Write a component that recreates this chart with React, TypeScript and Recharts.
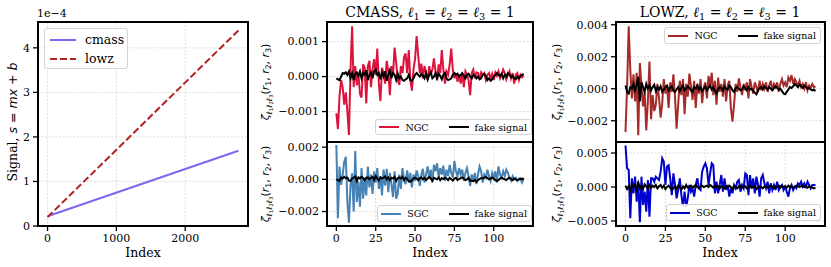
import React from 'react';
import { LineChart, Line, XAxis, YAxis, CartesianGrid } from 'recharts';

// left panel: s = m x + b, values in units of 1e-4
const signalIndex = [0, 2774];
const cmassSignal = [0.22, 1.69];
const lowzSignal = [0.2, 4.39];
const signalTicks = [0, 1, 2, 3, 4];
const longIndexTicks = [0, 1000, 2000];

// right panels, values in units of 1e-3
const indexTicks = [0, 25, 50, 75, 100];

const cmassNgc = [
  -1.05, -1.5, -0.55, -0.1, -0.3, -0.8, -0.45, -1.0, -1.67, 0.2,
  1.44, -0.3, 0.3, -0.25, 0.1, -0.5, -0.6, 0.35, 0.25, -0.77,
  0.3, 0.45, -0.3, 0.2, 0.5, 0.05, 0.8, -0.2, -0.7, 0.25,
  0.1, -0.2, 0.45, 0.15, -0.53, 0.3, 0.05, 0.83, 0.4, -0.1,
  -0.24, 0.3, 0.1, 0.55, 0.66, 0.1, 0.76, -0.1, -0.4, 0.2,
  0.5, 1.16, 0.6, 0.1, 0.37, -0.05, 0.3, 0.1, -0.1, 0.3,
  0.05, 0.2, 0.52, 0.15, -0.1, 0.35, 0.1, 0.76, 0.2, -0.2,
  0.15, 0.05, 0.35, 0.8, 0.2, -0.05, 0.1, -0.15, 0.05, -0.2,
  0.1, -0.3, 0.15, 0.05, -0.1, -0.53, 0.1, 0.2, -0.05, 0.12,
  0.1, -0.08, 0.12, 0.05, 0.1, -0.1, 0.05, 0.1, -0.05, 0.08,
  -0.1, 0.12, 0.02, 0.15, -0.05, 0.05, 0.2, 0.1, -0.08, 0.05,
  0.15, -0.05, 0.1, -0.2, 0.05, 0.1, -0.1, 0.05, -0.02, 0.03,
];
const cmassNgcFake = [
  -0.05, -0.08, -0.1, 0.0, 0.1, 0.08, 0.12, 0.05, 0.15, -0.05,
  0.1, -0.1, 0.08, 0.12, 0.02, 0.15, -0.05, 0.1, 0.05, 0.18,
  -0.1, 0.05, 0.12, -0.05, 0.15, 0.2, 0.05, 0.1, -0.08, 0.12,
  0.0, 0.15, -0.12, 0.05, 0.18, -0.05, 0.1, 0.05, -0.1, 0.08,
  -0.05, 0.0, -0.1, -0.12, -0.08, -0.05, 0.05, -0.1, -0.12, -0.05,
  0.05, 0.1, 0.05, 0.0, 0.08, 0.02, -0.05, 0.1, -0.08, 0.05,
  0.12, -0.05, 0.0, 0.1, -0.05, 0.08, 0.02, -0.08, 0.05, 0.1,
  -0.05, -0.1, -0.08, -0.05, 0.05, 0.1, 0.05, 0.08, 0.0, 0.05,
  0.1, 0.02, -0.05, 0.05, 0.08, 0.0, -0.05, 0.05, 0.02, -0.05,
  0.0, -0.08, -0.05, 0.05, 0.08, 0.02, -0.1, -0.05, -0.12, -0.08,
  0.0, 0.05, 0.1, 0.05, 0.02, 0.08, -0.05, 0.05, 0.0, 0.1,
  0.05, -0.02, 0.02, -0.05, -0.08, 0.0, -0.05, 0.02, 0.05, 0.08,
];
const cmassSgc = [
  2.13, -2.42, 0.8, -0.35, 0.27, 1.1, 1.4, -1.4, -2.7, -0.35,
  0.37, -2.0, 1.76, -1.4, -0.14, -1.7, 0.7, -1.2, 0.1, -1.0,
  0.8, -0.5, 0.3, -0.9, 0.5, -0.2, 0.7, -0.6, 0.2, -1.0,
  0.6, -0.4, 0.65, -0.8, 0.4, -0.3, -1.1, 0.5, -1.2, -0.9,
  0.3, -0.6, 0.7, 0.0, -0.3, 0.55, -0.2, 0.4, -0.5, 0.3,
  -0.1, 0.55, 0.2, -0.4, 0.3, 0.65, -0.2, 0.3, 0.8, 0.1,
  0.6, -0.2, 0.9, 0.5, 1.0, 0.1, 0.7, 0.3, 0.85, -0.1,
  0.6, 0.2, 0.9, 0.4, 0.1, 1.14, 0.5, 0.2, 0.7, 0.3,
  0.6, -0.1, 0.4, 0.7, 0.2, -0.4, 0.3, -0.1, 0.4, -0.3,
  0.3, 0.8, 0.5, -0.2, 0.3, 0.1, 0.6, 0.2, -0.1, 0.4,
  0.1, 0.5, -0.2, 0.8, 0.3, 0.1, 0.5, 0.2, 0.6, 0.4,
  0.1, -0.1, 0.2, 0.0, 0.1, -0.1, 0.05, 0.0, -0.2, 0.05,
];
const cmassSgcFake = [
  0.0, -0.05, -0.1, 0.1, 0.05, 0.15, 0.08, 0.1, -0.08, -0.1,
  0.05, 0.1, 0.18, -0.1, 0.12, 0.05, 0.15, 0.08, -0.05, 0.1,
  0.12, 0.0, 0.08, 0.15, -0.05, 0.2, 0.05, -0.08, 0.12, 0.05,
  0.1, 0.18, 0.0, 0.12, -0.05, 0.1, 0.05, 0.15, -0.1, 0.08,
  0.12, 0.05, 0.15, -0.05, 0.1, 0.02, -0.12, -0.15, -0.05, 0.05,
  0.1, 0.05, -0.05, 0.08, 0.12, 0.0, 0.1, -0.05, 0.05, 0.15,
  0.05, -0.08, 0.1, 0.05, 0.0, 0.12, -0.05, 0.08, 0.02, 0.1,
  0.05, -0.05, 0.1, 0.0, -0.08, 0.05, 0.1, -0.05, 0.02, 0.08,
  0.12, 0.05, -0.05, 0.0, 0.1, -0.1, -0.08, -0.12, -0.05, -0.15,
  -0.05, 0.02, 0.08, 0.05, 0.1, 0.15, 0.08, 0.0, 0.05, 0.1,
  0.05, -0.05, -0.1, -0.05, 0.05, 0.1, 0.05, 0.0, -0.05, 0.05,
  0.1, 0.02, -0.05, 0.05, 0.0, -0.05, -0.02, 0.05, 0.0, 0.08,
];
const lowzNgc = [
  -2.7, 0.1, 3.9, 1.2, -0.6, 0.9, -0.8, 1.0, -2.9, 1.6,
  0.2, -1.1, -0.2, -2.6, -0.8, 1.7, -1.9, -0.4, -1.4, -1.0,
  0.3, -0.6, -1.8, -0.9, 0.6, -0.3, 0.2, -1.2, 0.4, -0.2,
  0.9, -0.5, -2.5, -1.0, 0.5, -0.4, 0.6, -1.6, 0.3, -0.5,
  0.95, 0.2, -0.7, 0.5, -1.2, 0.3, -0.3, 0.6, -0.9, 0.1,
  0.4, -0.6, 0.8, 0.2, 1.0, -0.4, 0.5, -1.0, 0.7, -0.2,
  0.3, -0.5, 0.6, -0.8, 0.2, 0.5, -1.2, -2.06, -1.0, 0.3,
  -0.2, 0.65, 0.1, -0.4, 0.3, -0.1, 0.4, -0.6, 0.6, 0.1,
  -0.3, 0.4, 0.1, -0.2, 0.5, -0.1, 0.3, 0.0, 0.4, -0.2,
  0.2, 0.5, -0.1, 0.3, 0.1, 0.4, -0.2, 0.3, 0.6, 0.2,
  0.4, 0.1, 0.7, 0.5, 0.85, 0.3, 0.6, 0.4, 0.2, 0.5,
  0.1, 0.3, 0.0, 0.4, -0.1, 0.2, 0.05, 0.3, 0.1, 0.15,
];
const lowzNgcFake = [
  0.2, -0.2, -0.3, 0.1, 0.0, 0.3, -0.1, 0.2, 0.75, -0.8,
  0.4, 0.1, -0.2, 0.3, 0.0, 0.2, -0.1, 0.1, 0.25, -0.15,
  0.1, -0.05, 0.15, -0.2, -0.05, 0.1, 0.2, -0.1, 0.05, 0.15,
  -0.1, -0.2, -0.05, 0.1, -0.15, 0.05, 0.2, -0.1, 0.0, 0.15,
  0.05, -0.1, -0.2, 0.1, 0.0, 0.2, -0.05, 0.1, -0.15, 0.0,
  0.15, -0.1, 0.05, 0.2, -0.05, 0.1, -0.15, -0.3, -0.05, 0.1,
  0.05, -0.1, 0.15, 0.0, -0.05, 0.2, 0.1, -0.1, -0.2, 0.05,
  0.1, 0.0, -0.1, -0.05, 0.15, 0.05, -0.1, 0.1, -0.05, 0.0,
  -0.15, -0.25, -0.35, -0.1, 0.05, 0.1, -0.05, 0.15, 0.05, -0.05,
  0.1, 0.0, -0.1, 0.05, 0.15, 0.05, -0.05, 0.0, -0.15, -0.3,
  -0.35, -0.2, -0.05, 0.1, 0.05, 0.15, 0.3, 0.2, 0.1, 0.25,
  0.15, 0.05, 0.2, 0.1, 0.0, 0.05, -0.05, -0.1, -0.05, -0.15,
];
const lowzSgc = [
  6.1, 2.75, 2.5, -4.6, 1.27, -0.93, 1.52, -2.16, 0.78, -5.2,
  1.52, -2.65, -0.69, -3.63, 1.03, -4.36, 1.27, 1.27, 0.78, 1.52,
  1.27, 1.03, 2.25, 4.2, 3.7, 0.3, 3.0, 3.2, 1.27, -1.2,
  2.0, 0.3, -1.67, -0.44, 1.27, -1.2, -2.9, -0.69, -2.9, -1.67,
  0.3, -0.69, -0.2, -1.42, 0.3, 1.27, -0.2, -0.44, 2.25, 3.0,
  3.48, 2.75, 0.3, 2.0, 3.48, 3.2, -0.93, 0.78, -0.93, 0.3,
  1.76, -0.69, 1.27, -0.44, 0.3, -1.42, -0.2, -0.93, 0.3, -0.2,
  0.78, 1.03, -0.69, 0.3, -0.2, 2.0, 1.76, -1.2, 1.76, -0.2,
  1.27, -0.93, 1.52, 0.3, -1.42, 1.27, 1.76, 0.54, -0.2, 0.78,
  -0.93, 0.54, -0.44, 0.3, -0.44, 0.78, -0.44, 0.05, 0.3, -0.44,
  0.05, -0.69, -1.42, -0.2, 0.3, -0.44, 0.05, -0.2, 0.54, 0.3,
  0.78, 0.05, 0.54, 0.05, 0.78, 0.3, -0.2, 0.3, 0.3, 0.3,
];
const lowzSgcFake = [
  0.2, -0.3, 0.1, -0.5, 0.4, 0.0, 0.3, -0.4, 0.6, -0.2,
  0.2, -0.3, 0.4, 0.1, -0.2, 0.3, -0.1, 0.2, 0.0, 0.3,
  -0.2, 0.1, 0.3, -0.1, 0.2, -0.3, 0.0, 0.2, -0.1, -0.4,
  -0.2, 0.1, -0.3, 0.2, 0.0, -0.4, 0.1, -0.2, 0.3, -0.1,
  0.0, 0.2, -0.1, 0.1, 0.3, 0.0, -0.2, 0.1, 0.2, 0.0,
  0.1, 0.2, 0.0, 0.3, 0.1, -0.1, 0.2, 0.0, 0.1, -0.2,
  0.1, 0.0, -0.2, 0.1, -0.1, 0.2, 0.0, -0.3, 0.1, 0.0,
  -0.2, 0.1, 0.2, -0.1, 0.0, 0.1, -0.2, 0.0, 0.2, -0.1,
  0.0, 0.1, -0.3, -0.1, 0.1, 0.0, -0.2, 0.1, 0.0, -0.1,
  0.1, 0.2, 0.0, -0.2, 0.1, 0.0, 0.2, -0.1, 0.1, 0.0,
  0.1, -0.1, 0.2, 0.0, 0.1, -0.1, 0.0, 0.2, 0.1, 0.0,
  0.1, 0.2, 0.0, 0.1, -0.1, 0.1, 0.0, -0.1, -0.2, -0.1,
];

const SERIF = '"DejaVu Serif", serif';
const MATH = '"DejaVu Sans", sans-serif';
const AXIS = { stroke: '#000', strokeWidth: 2 };
const TICK = { stroke: '#000', strokeWidth: 1.3 };
const TICK_TEXT = { fontSize: 11, fill: '#000', fontFamily: SERIF };
const RIGHT_X: [number, number] = [-5.95, 124.95];

const milli = (v: number) => (v < 0 ? '\u2212' : '') + (Math.abs(v) / 1000).toFixed(3);

type Series = { key: string; color: string; dash?: string };

interface PanelProps {
  left: number;
  top: number;
  width: number;
  height: number;
  margin: { top: number; right: number; bottom: number; left: number };
  yWidth: number;
  xHeight: number;
  rows: Record<string, number>[];
  series: Series[];
  xDomain: [number, number];
  xTicks: number[];
  showX: boolean;
  yDomain: [number, number];
  yTicks: number[];
  yFormat: (v: number) => string;
}

function Panel(p: PanelProps) {
  const plotW = p.width - p.margin.left - p.margin.right - p.yWidth;
  const plotH = p.height - p.margin.top - p.margin.bottom - p.xHeight;
  return (
    <div style={{ position: 'absolute', left: p.left, top: p.top }}>
      <LineChart width={p.width} height={p.height} data={p.rows} margin={p.margin}>
        <CartesianGrid stroke="#d6d6d6" strokeWidth={0.8} strokeDasharray="2 1.5" />
        <XAxis
          dataKey="index"
          type="number"
          domain={p.xDomain}
          ticks={p.xTicks}
          interval={0}
          allowDataOverflow
          height={p.xHeight}
          axisLine={AXIS}
          tickLine={p.showX ? TICK : false}
          tick={p.showX ? TICK_TEXT : false}
          tickSize={5}
          tickMargin={3}
        />
        <YAxis
          type="number"
          domain={p.yDomain}
          ticks={p.yTicks}
          interval={0}
          allowDataOverflow
          width={p.yWidth}
          axisLine={AXIS}
          tickLine={TICK}
          tick={TICK_TEXT}
          tickSize={5}
          tickMargin={3}
          tickFormatter={p.yFormat}
        />
        {p.series.map((s) => (
          <Line
            key={s.key}
            dataKey={s.key}
            type="linear"
            stroke={s.color}
            strokeWidth={2}
            strokeDasharray={s.dash}
            dot={false}
            activeDot={false}
            isAnimationActive={false}
          />
        ))}
      </LineChart>
      {/* axes frame (matplotlib spines) */}
      <div style={{ position: 'absolute', left: p.margin.left + p.yWidth - 1, top: p.margin.top - 1,
        width: plotW + 2, height: plotH + 2, border: '2px solid #000', boxSizing: 'border-box', pointerEvents: 'none' }} />
    </div>
  );
}

type LegendItem = { label: string; color: string; dash?: string };

function LegendBox({ items, style, vertical, fontSize, sample }: {
  items: LegendItem[]; style: React.CSSProperties; vertical?: boolean; fontSize: number; sample: number;
}) {
  return (
    <div style={{
      position: 'absolute', display: 'flex', flexDirection: vertical ? 'column' : 'row',
      alignItems: vertical ? 'flex-start' : 'center', background: 'rgba(255,255,255,0.85)',
      border: '1px solid #d4d4d4', borderRadius: 3, fontFamily: SERIF, fontSize, color: '#000',
      boxSizing: 'border-box', ...style,
    }}>
      {items.map((it, i) => (
        <div key={it.label} style={{ display: 'flex', alignItems: 'center',
          marginLeft: vertical ? 0 : i === 0 ? 0 : 20, height: vertical ? 19 : undefined }}>
          <svg width={sample} height={4} style={{ marginRight: vertical ? 9 : 6 }}>
            <line x1={0} y1={2} x2={sample} y2={2} stroke={it.color} strokeWidth={2} strokeDasharray={it.dash} />
          </svg>
          <span style={{ whiteSpace: 'nowrap' }}>{it.label}</span>
        </div>
      ))}
    </div>
  );
}

const sub = (t: string) => (
  <span style={{ fontSize: '0.7em', position: 'relative', top: '0.3em' }}>{t}</span>
);

function ZetaLabel({ x, y }: { x: number; y: number }) {
  return (
    <div style={{ position: 'absolute', left: x, top: y, transform: 'translate(-50%, -50%) rotate(-90deg)',
      fontFamily: MATH, fontSize: 11, whiteSpace: 'nowrap', lineHeight: '14px' }}>
      <i>ζ</i>
      <span style={{ fontSize: '0.7em', position: 'relative', top: '0.35em' }}>
        <i>ℓ</i>{sub('1')}<i>ℓ</i>{sub('2')}<i>ℓ</i>{sub('3')}
      </span>
      (<i>r</i>{sub('1')}, <i>r</i>{sub('2')}, <i>r</i>{sub('3')})
    </div>
  );
}

function Title({ name, cx }: { name: string; cx: number }) {
  return (
    <div style={{ position: 'absolute', left: cx, top: 3, transform: 'translateX(-50%)', fontFamily: SERIF,
      fontSize: 14, lineHeight: '18px', whiteSpace: 'nowrap' }}>
      {name}, <i>ℓ</i>{sub('1')} = <i>ℓ</i>{sub('2')} = <i>ℓ</i>{sub('3')} = 1
    </div>
  );
}

function XLabel({ cx }: { cx: number }) {
  return (
    <div style={{ position: 'absolute', left: cx, top: 245, transform: 'translateX(-50%)', fontFamily: SERIF,
      fontSize: 12.5, lineHeight: '16px' }}>Index</div>
  );
}

export default function App() {
  const signalRows = signalIndex.map((x, i) => ({ index: x, cmass: cmassSignal[i], lowz: lowzSignal[i] }));
  const rowsOf = (obs: number[], fake: number[]) => obs.map((v, i) => ({ index: i, obs: v, fake: fake[i] }));

  return (
    <div style={{ position: 'absolute', left: 0, top: 0, width: 831, height: 267, background: '#fff', overflow: 'hidden' }}>
      {/* left panel */}
      <Panel left={0} top={0} width={258} height={267} margin={{ top: 22, right: 10, bottom: 0, left: 0 }}
        yWidth={38} xHeight={41} rows={signalRows}
        series={[{ key: 'cmass', color: '#7b68ee' }, { key: 'lowz', color: '#b22222', dash: '7 3' }]}
        xDomain={[-139, 2913]} xTicks={longIndexTicks} showX
        yDomain={[0, 4.58]} yTicks={signalTicks} yFormat={(v) => String(v)} />
      <div style={{ position: 'absolute', left: 37, top: 7, fontFamily: SERIF, fontSize: 11, lineHeight: '13px' }}>1e−4</div>
      <div style={{ position: 'absolute', left: 12, top: 122, transform: 'translate(-50%, -50%) rotate(-90deg)',
        fontFamily: SERIF, fontSize: 12.5, whiteSpace: 'nowrap', lineHeight: '15px' }}>
        Signal, <span style={{ fontFamily: MATH }}><i>s</i> = <i>mx</i> + <i>b</i></span>
      </div>
      <LegendBox vertical fontSize={12.5} sample={26}
        items={[{ label: 'cmass', color: '#7b68ee' }, { label: 'lowz', color: '#b22222', dash: '7 3' }]}
        style={{ left: 44, top: 28, width: 84, height: 41, padding: '1px 0 0 5px' }} />
      <XLabel cx={143} />

      {/* CMASS */}
      <Panel left={270} top={0} width={273} height={147} margin={{ top: 22, right: 10, bottom: 5, left: 0 }}
        yWidth={57} xHeight={0} rows={rowsOf(cmassNgc, cmassNgcFake)}
        series={[{ key: 'obs', color: '#dc143c' }, { key: 'fake', color: '#000' }]}
        xDomain={RIGHT_X} xTicks={indexTicks} showX={false}
        yDomain={[-1.87, 1.56]} yTicks={[-1, 0, 1]} yFormat={milli} />
      <Panel left={270} top={137} width={273} height={130} margin={{ top: 5, right: 10, bottom: 0, left: 0 }}
        yWidth={57} xHeight={41} rows={rowsOf(cmassSgc, cmassSgcFake)}
        series={[{ key: 'obs', color: '#4682b4' }, { key: 'fake', color: '#000' }]}
        xDomain={RIGHT_X} xTicks={indexTicks} showX
        yDomain={[-2.9, 2.32]} yTicks={[-2, 0, 2]} yFormat={milli} />
      <Title name="CMASS" cx={430} />
      <ZetaLabel x={266} y={82} />
      <ZetaLabel x={266} y={184} />
      <LegendBox fontSize={9.5} sample={20}
        items={[{ label: 'NGC', color: '#dc143c' }, { label: 'fake signal', color: '#000' }]}
        style={{ right: 831 - 532, top: 119, height: 16, padding: '0 4px 0 3px' }} />
      <LegendBox fontSize={9.5} sample={20}
        items={[{ label: 'SGC', color: '#4682b4' }, { label: 'fake signal', color: '#000' }]}
        style={{ right: 831 - 532, top: 205, height: 17, padding: '0 4px 0 3px' }} />
      <XLabel cx={430} />

      {/* LOWZ */}
      <Panel left={560} top={0} width={271} height={147} margin={{ top: 22, right: 6, bottom: 5, left: 0 }}
        yWidth={56} xHeight={0} rows={rowsOf(lowzNgc, lowzNgcFake)}
        series={[{ key: 'obs', color: '#a52a2a' }, { key: 'fake', color: '#000' }]}
        xDomain={RIGHT_X} xTicks={indexTicks} showX={false}
        yDomain={[-3.33, 4.17]} yTicks={[-2, 0, 2, 4]} yFormat={milli} />
      <Panel left={560} top={137} width={271} height={130} margin={{ top: 5, right: 6, bottom: 0, left: 0 }}
        yWidth={56} xHeight={41} rows={rowsOf(lowzSgc, lowzSgcFake)}
        series={[{ key: 'obs', color: '#0000cd' }, { key: 'fake', color: '#000' }]}
        xDomain={RIGHT_X} xTicks={indexTicks} showX
        yDomain={[-5.74, 6.62]} yTicks={[-5, 0, 5]} yFormat={milli} />
      <Title name="LOWZ" cx={720} />
      <ZetaLabel x={557} y={82} />
      <ZetaLabel x={557} y={184} />
      <LegendBox fontSize={9.5} sample={20}
        items={[{ label: 'NGC', color: '#a52a2a' }, { label: 'fake signal', color: '#000' }]}
        style={{ right: 831 - 821, top: 27, height: 17, padding: '0 4px 0 3px' }} />
      <LegendBox fontSize={9.5} sample={20}
        items={[{ label: 'SGC', color: '#0000cd' }, { label: 'fake signal', color: '#000' }]}
        style={{ right: 831 - 821, top: 204, height: 17, padding: '0 4px 0 3px' }} />
      <XLabel cx={720} />
    </div>
  );
}
